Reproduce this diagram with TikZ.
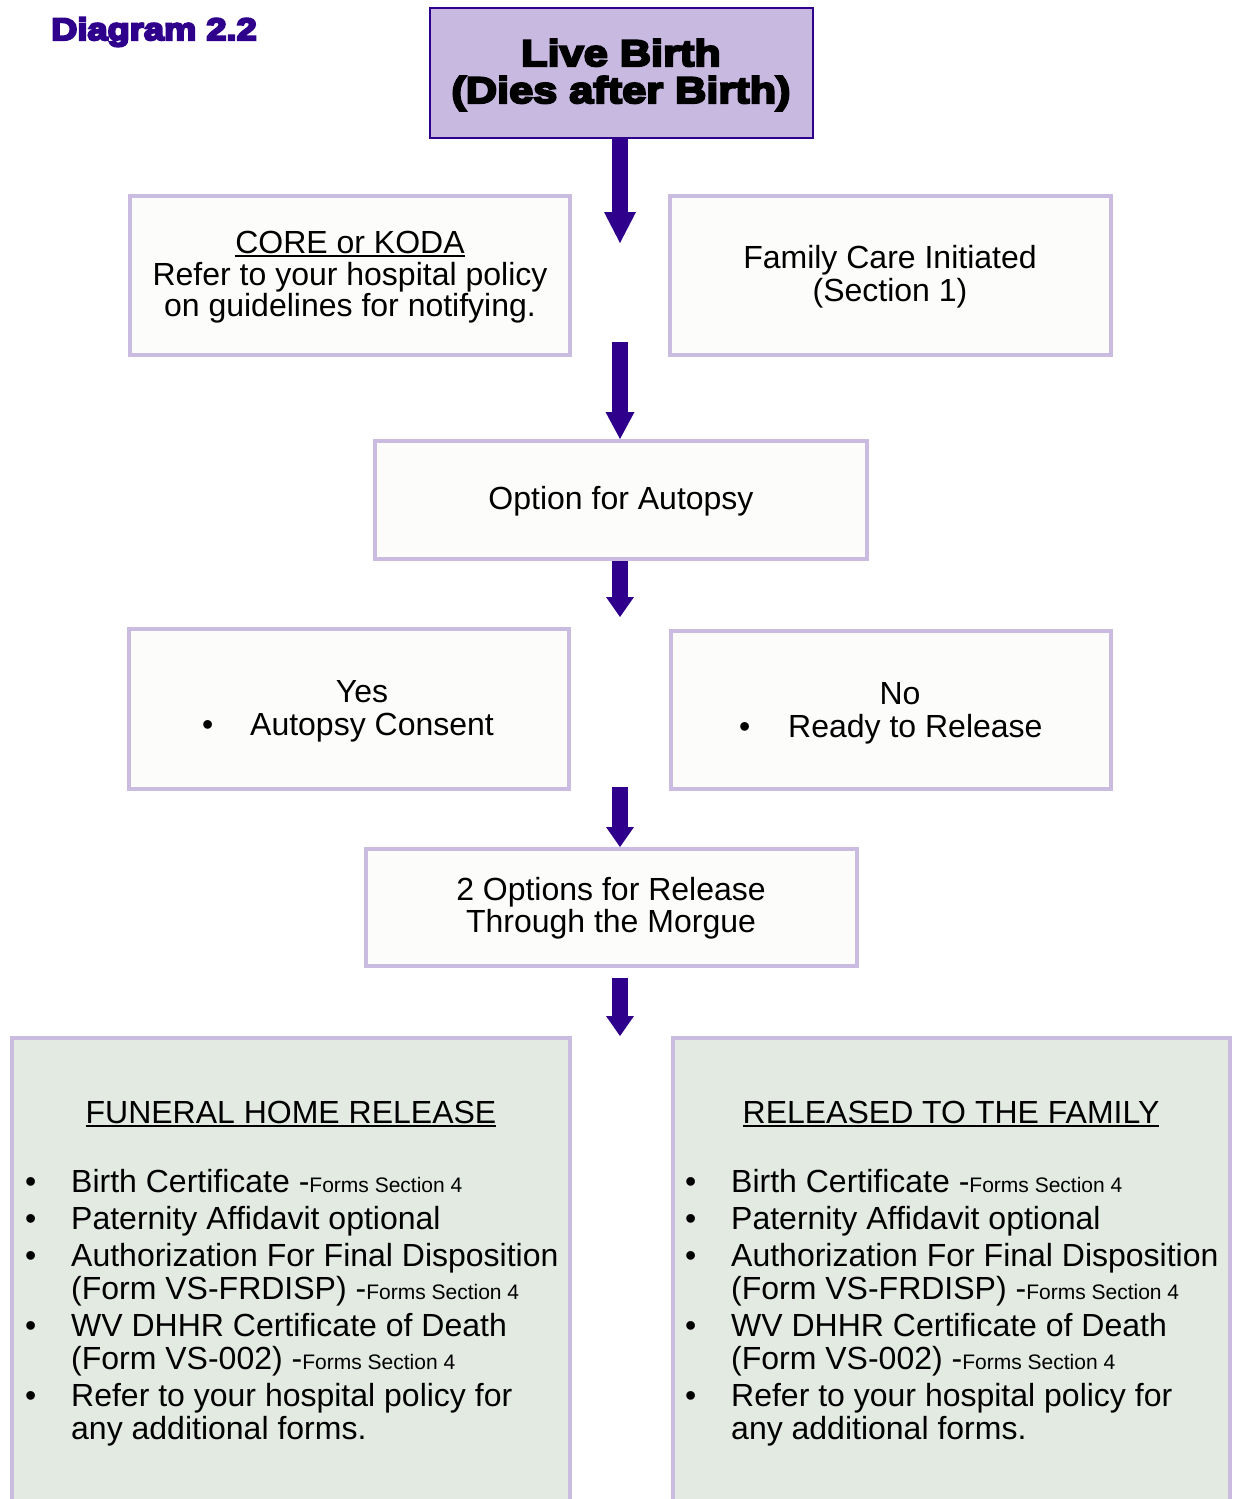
\documentclass[tikz,border=0pt]{standalone}
\usepackage{fontspec}
\setmainfont{Liberation Sans}
\newfontfamily\heavyfont{Liberation Sans}[FakeStretch=1.17]
\usetikzlibrary{arrows.meta}
\definecolor{lav}{RGB}{201,188,224}
\definecolor{topfill}{RGB}{200,185,224}
\definecolor{ink}{RGB}{46,0,140}
\definecolor{paper}{RGB}{252,252,250}
\definecolor{sage}{RGB}{226,234,226}
\newcommand\myul[1]{\setbox0\hbox{#1}\rlap{\rule[-3.5pt]{\wd0}{2pt}}\box0}
\newcommand\fsec{{\fontsize{21}{33}\selectfont\spaceskip=0pt Forms Section 4}}
\newcommand\bul{\makebox[46pt][l]{•}}
\newcommand\ind{\hspace*{46pt}}
\newcommand\thick[1]{\special{pdf:literal direct 2 Tr 2.2 w}#1\special{pdf:literal direct 0 Tr 1 w}}
\begin{document}
\begin{tikzpicture}[x=1pt,y=-1pt,
  box/.style={draw=lav, line width=4pt, fill=paper, inner sep=0pt},
  txt/.style={font=\fontsize{32}{33}\selectfont, inner sep=0pt, anchor=base},
  heavy/.style={inner sep=0pt, anchor=base, font=\heavyfont\bfseries\fontsize{37}{37}\selectfont},
  flow/.style 2 args={draw=ink, line width=16pt, -{Triangle[width=#1, length=#2, line width=0pt]}}
]
\fill[white] (0,0) rectangle (1233,1499);
\useasboundingbox (0,0) rectangle (1233,1499);

% title
\node[heavy, anchor=base west, text=ink, font=\heavyfont\bfseries\fontsize{31}{31}\selectfont] (dia) at (51,40) {\thick{Diagram 2.2}};

% boxes
\node[box, draw=ink, line width=2pt, fill=topfill, minimum width=383pt, minimum height=130pt] (live) at (621.5,73) {};
\node[box, minimum width=440pt, minimum height=159pt] (core) at (350,275.5) {};
\node[box, minimum width=441pt, minimum height=159pt] (fam) at (890.5,275.5) {};
\node[box, minimum width=492pt, minimum height=118pt] (opt) at (621,500) {};
\node[box, minimum width=440pt, minimum height=160pt] (yes) at (349,709) {};
\node[box, minimum width=440pt, minimum height=158pt] (no) at (891,710) {};
\node[box, minimum width=491pt, minimum height=117pt] (morgue) at (611.5,907.5) {};
\node[box, fill=sage, minimum width=558pt, minimum height=467pt] (funeral) at (291,1271.5) {};
\node[box, fill=sage, minimum width=557pt, minimum height=467pt] (family) at (951.5,1271.5) {};

% texts
\node[heavy] (livet1) at (621,66) {\thick{Live Birth}};
\node[heavy] (livet2) at (621,103) {\thick{(Dies after Birth)}};

\node[txt] (coret1) at (350,253) {\myul{CORE or KODA}};
\node[txt] (coret2) at (350,285) {Refer to your hospital policy};
\node[txt] (coret3) at (350,316) {on guidelines for notifying.};

\node[txt] (famt1) at (890,268) {Family Care Initiated};
\node[txt] (famt2) at (890,301) {(Section 1)};

\node[txt] (optt) at (621,509) {Option for Autopsy};

\node[txt] (yest1) at (362,702) {Yes};
\node[txt, anchor=base west] (yest2) at (202,735) {\makebox[48pt][l]{•}Autopsy Consent};

\node[txt] (not1) at (900,704) {No};
\node[txt, anchor=base west] (not2) at (739,737) {\makebox[49pt][l]{•}Ready to Release};

\node[txt] (mort1) at (611,900) {2 Options for Release};
\node[txt] (mort2) at (611,932) {Through the Morgue};

\node[txt] (funt) at (291,1123) {\myul{FUNERAL HOME RELEASE}};
\node[txt] (relt) at (951,1123) {\myul{RELEASED TO THE FAMILY}};

\node[txt, anchor=base west, text width=540pt, align=left] (flist) at (25,1192)
 {\spaceskip=0pt\xspaceskip=0pt
  \bul Birth Certificate -\fsec\\[4pt]
  \bul Paternity Affidavit optional\\[4pt]
  \bul Authorization For Final Disposition\\
  \ind (Form VS-FRDISP) -\fsec\\[4pt]
  \bul WV DHHR Certificate of Death\\
  \ind (Form VS-002) -\fsec\\[4pt]
  \bul Refer to your hospital policy for\\
  \ind any additional forms.};
\node[txt, anchor=base west, text width=540pt, align=left] (rlist) at (685,1192)
 {\spaceskip=0pt\xspaceskip=0pt
  \bul Birth Certificate -\fsec\\[4pt]
  \bul Paternity Affidavit optional\\[4pt]
  \bul Authorization For Final Disposition\\
  \ind (Form VS-FRDISP) -\fsec\\[4pt]
  \bul WV DHHR Certificate of Death\\
  \ind (Form VS-002) -\fsec\\[4pt]
  \bul Refer to your hospital policy for\\
  \ind any additional forms.};

% connectors
\coordinate (a1) at (620,243);
\coordinate (a2) at (620,342);
\coordinate (a3) at (620,617);
\coordinate (a4) at (620,787);
\coordinate (a5) at (620,978);
\draw[flow={32pt}{31pt}] (live.south -| a1) -- (a1);
\draw[flow={29pt}{27pt}] (a2) -- (a2 |- opt.north);
\draw[flow={28pt}{20pt}] (opt.south -| a3) -- (a3);
\draw[flow={28pt}{20pt}] (a4) -- (a4 |- morgue.north);
\draw[flow={28pt}{20pt}] (a5) -- (a5 |- funeral.north);
\end{tikzpicture}
\end{document}
